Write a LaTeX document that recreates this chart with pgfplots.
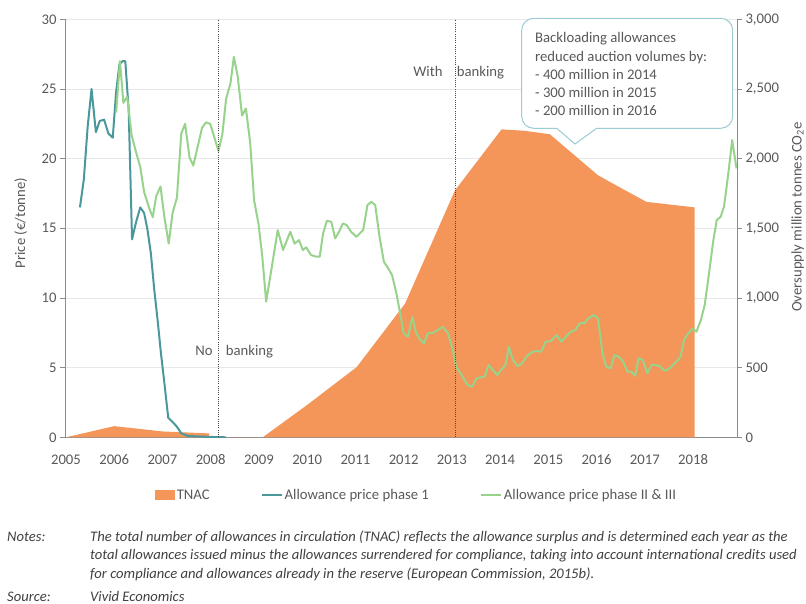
\documentclass[border=0pt]{standalone}
\usepackage{fontspec}
\setmainfont{Carlito}
\usepackage{pgfplots}
\usepackage{pgfplotstable}
\pgfplotsset{compat=1.18}
\definecolor{tnac}{HTML}{F49559}
\definecolor{phaseone}{HTML}{4A979C}
\definecolor{phasetwo}{HTML}{97D38B}
\definecolor{txt}{HTML}{595959}
\definecolor{notetxt}{HTML}{404040}
\definecolor{axgray}{HTML}{8C8C8C}
\definecolor{gridc}{HTML}{E8E8E8}
\definecolor{callc}{HTML}{9CCBD3}
\newcommand\cf{\fontsize{14.7bp}{17.6bp}\selectfont}
\newcommand\nf{\fontsize{14.6bp}{17.5bp}\selectfont}

\pgfplotstableread{
x y
2005.00 0
2006.00 80
2007.00 42
2007.97 28
2007.97 0
2009.08 0
2010.03 240
2011.03 505
2012.03 960
2013.06 1770
2014.03 2210
2014.50 2200
2015.03 2175
2016.03 1880
2016.50 1790
2017.03 1690
2018.03 1650
2018.03 0
}\tnacdata

\pgfplotstableread{
x y
2005.29 16.5
2005.37 18.5
2005.45 22.3
2005.53 25.0
2005.62 21.9
2005.70 22.7
2005.79 22.8
2005.88 21.8
2005.97 21.5
2006.04 24.8
2006.11 26.8
2006.18 27.0
2006.23 27.0
2006.30 23.5
2006.37 14.2
2006.45 15.4
2006.54 16.5
2006.62 16.1
2006.69 14.9
2006.76 13.2
2006.83 10.6
2006.90 8.4
2006.97 6.0
2007.04 3.9
2007.12 1.4
2007.21 1.1
2007.30 0.76
2007.39 0.29
2007.52 0.1
2007.80 0.05
2008.07 0.02
2008.32 0.0
}\phaseonedata

\pgfplotstableread{
x y
2006.04 23.3
2006.12 27.0
2006.19 24.0
2006.27 24.45
2006.36 21.7
2006.45 20.5
2006.54 19.4
2006.62 17.6
2006.73 16.4
2006.80 15.8
2006.87 17.3
2006.96 18.0
2007.04 15.8
2007.13 13.9
2007.21 16.1
2007.30 17.2
2007.39 21.8
2007.47 22.5
2007.56 20.1
2007.64 19.5
2007.73 20.85
2007.82 22.2
2007.90 22.6
2007.99 22.5
2008.07 21.6
2008.16 20.55
2008.24 21.7
2008.32 24.3
2008.41 25.4
2008.48 27.3
2008.56 25.9
2008.65 23.1
2008.73 23.6
2008.82 21.1
2008.90 17.0
2008.99 15.35
2009.07 12.96
2009.15 9.73
2009.39 14.87
2009.50 13.44
2009.65 14.75
2009.74 13.9
2009.83 14.15
2009.91 13.44
2009.98 13.63
2010.08 13.08
2010.19 12.96
2010.26 12.96
2010.33 14.63
2010.41 15.54
2010.50 15.47
2010.58 14.27
2010.66 14.75
2010.74 15.35
2010.82 15.23
2010.91 14.75
2011.02 14.39
2011.16 14.87
2011.25 16.67
2011.33 16.9
2011.41 16.67
2011.50 14.39
2011.59 12.6
2011.68 12.12
2011.76 11.64
2011.85 10.33
2011.94 8.65
2012.00 7.46
2012.09 7.22
2012.18 8.65
2012.26 7.46
2012.35 6.98
2012.42 6.74
2012.50 7.46
2012.61 7.5
2012.71 7.7
2012.81 7.93
2012.92 7.46
2013.02 6.26
2013.09 5.06
2013.18 4.59
2013.26 4.11
2013.33 3.75
2013.42 3.63
2013.51 4.23
2013.60 4.3
2013.68 4.35
2013.76 5.19
2013.85 4.83
2013.94 4.47
2014.02 4.83
2014.11 5.19
2014.18 6.5
2014.26 5.6
2014.36 5.1
2014.45 5.3
2014.55 5.8
2014.65 6.1
2014.75 6.2
2014.85 6.14
2014.94 6.86
2015.05 6.9
2015.17 7.34
2015.27 6.86
2015.36 7.2
2015.46 7.58
2015.56 7.7
2015.65 8.18
2015.75 8.2
2015.83 8.54
2015.94 8.77
2016.03 8.54
2016.12 6.03
2016.20 5.06
2016.29 4.95
2016.37 5.9
2016.46 5.78
2016.55 5.42
2016.64 4.71
2016.72 4.71
2016.80 4.4
2016.87 5.67
2016.96 5.55
2017.05 4.59
2017.14 5.19
2017.22 5.19
2017.31 5.1
2017.40 4.78
2017.48 4.87
2017.56 5.1
2017.65 5.42
2017.74 5.78
2017.81 6.98
2017.90 7.46
2017.99 7.82
2018.07 7.58
2018.16 8.41
2018.24 9.49
2018.33 11.76
2018.42 14.15
2018.49 15.59
2018.57 15.82
2018.64 16.54
2018.73 18.94
2018.81 21.33
2018.90 19.3
}\phasetwodata

\begin{document}
\begin{tikzpicture}
\useasboundingbox (0,0) rectangle (806bp,604bp);
\begin{axis}[
  at={(65bp,166.7bp)}, anchor=south west, scale only axis,
  width=672bp, height=418bp,
  xmin=2004.98, xmax=2018.91, ymin=0, ymax=30,
  axis x line*=bottom, axis y line*=left,
  axis line style={draw=axgray, line width=0.8bp, -},
  xtick={2005,2006,...,2018},
  ytick={0,5,...,30},
  xticklabel style={/pgf/number format/1000 sep=, yshift=-9bp},
  tick label style={font=\cf, text=txt},
  /pgf/number format/assume math mode=true,
  tick align=outside,
  major tick length=5bp,
  xtick style={draw=none},
  ytick style={draw=axgray, line width=0.8bp},
  ymajorgrids, major grid style={draw=gridc, line width=0.8bp},
  legend style={draw=none, fill=none, at={(0.134,-0.138)}, anchor=west,
    legend columns=3, font=\cf, text=txt, inner sep=0pt,
    nodes={inner sep=1.5bp},
    /tikz/every even column/.append style={column sep=50bp}},
]
\addplot[fill=tnac, draw=none,
  legend image code/.code={\fill[tnac] (0bp,-5bp) rectangle (20bp,5bp);}]
  table[x=x, y expr=\thisrow{y}/100] {\tnacdata} \closedcycle;
\addplot[phaseone, line width=2bp, line join=round,
  legend image code/.code={\draw[phaseone,line width=2bp] (0bp,0bp) -- (20bp,0bp);}]
  table[x=x, y=y] {\phaseonedata};
\addplot[phasetwo, line width=2bp, line join=round,
  legend image code/.code={\draw[phasetwo,line width=2bp] (0bp,0bp) -- (20bp,0bp);}]
  table[x=x, y=y] {\phasetwodata};
\legend{TNAC, Allowance price phase 1, Allowance price phase II \& III}
\draw[black!70, line width=0.6bp, dash pattern=on 1bp off 1.2bp] (axis cs:2008.16,0) -- (axis cs:2008.16,30);
\draw[black!70, line width=0.6bp, dash pattern=on 1bp off 1.2bp] (axis cs:2013.08,0) -- (axis cs:2013.08,30);
\end{axis}
\begin{axis}[
  at={(65bp,166.7bp)}, anchor=south west, scale only axis,
  width=672bp, height=418bp,
  xmin=2004.98, xmax=2018.91, ymin=0, ymax=3000,
  axis x line=none, axis y line*=right,
  axis line style={draw=axgray, line width=0.8bp, -},
  ytick={0,500,...,3000},
  tick label style={font=\cf, text=txt},
  /pgf/number format/assume math mode=true,
  tick align=outside,
  major tick length=5bp,
  ytick style={draw=axgray, line width=0.8bp},
]
\addplot[draw=none] coordinates {(2005,0)};
\end{axis}
% axis titles
\node[rotate=90, anchor=base, font=\cf, text=txt, inner sep=0pt] at (25bp,381bp) {Price (€/tonne)};
\node[rotate=90, anchor=base, font=\cf, text=txt, inner sep=0pt] at (801.5bp,387bp) {Oversupply million tonnes CO\textsubscript{2}e};
% banking labels
\node[anchor=base east, font=\cf, text=txt, inner sep=0pt] at (212.7bp,248bp) {No};
\node[anchor=base west, font=\cf, text=txt, inner sep=0pt] at (225.7bp,248bp) {banking};
\node[anchor=base east, font=\cf, text=txt, inner sep=0pt] at (442.7bp,527.5bp) {With};
\node[anchor=base west, font=\cf, text=txt, inner sep=0pt] at (456.7bp,527.5bp) {banking};
% callout
\draw[draw=callc, line width=1bp, fill=white]
  (575bp,460bp) -- (556.7bp,475.7bp) [rounded corners=12bp] -- (521.7bp,475.7bp) -- (521.7bp,585.7bp)
  -- (732.7bp,585.7bp) -- (732.7bp,475.7bp) [sharp corners] -- (596.7bp,475.7bp) -- cycle;
\begin{scope}[every node/.style={anchor=base west, font=\cf, text=txt, inner sep=0pt}]
\node at (535bp,561bp) {Backloading allowances};
\node at (535bp,542.9bp) {reduced auction volumes by:};
\node at (535bp,524.8bp) {- 400 million in 2014};
\node at (535bp,506.7bp) {- 300 million in 2015};
\node at (535bp,488.6bp) {- 200 million in 2016};
\end{scope}
% notes
\begin{scope}[every node/.style={anchor=base west, font=\nf\itshape, text=notetxt, inner sep=0pt}]
\node at (7bp,62.5bp) {Notes:};
\node at (90bp,62.5bp) {The total number of allowances in circulation (TNAC) reflects the allowance surplus and is determined each year as the};
\node at (90bp,44bp) {total allowances issued minus the allowances surrendered for compliance, taking into account international credits used};
\node at (90bp,25.5bp) {for compliance and allowances already in the reserve (European Commission, 2015b).};
\node at (7bp,2.5bp) {Source:};
\node at (90bp,2.5bp) {Vivid Economics};
\end{scope}
\end{tikzpicture}
\end{document}
